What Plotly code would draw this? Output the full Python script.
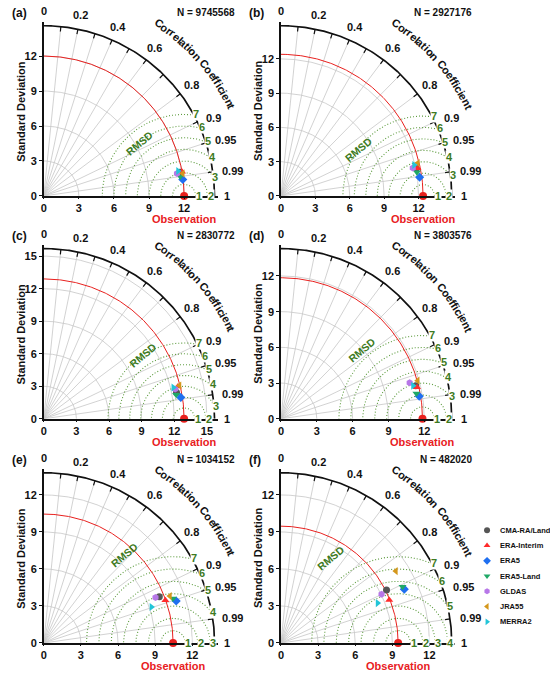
import numpy as np
import plotly.graph_objects as go

# ---------------- data ----------------
panels = ["(a)", "(b)", "(c)", "(d)", "(e)", "(f)"]
sample_sizes = [9745568, 2927176, 2830772, 3803576, 1034152, 482020]
obs_std = [12.0, 12.4, 12.9, 11.85, 10.45, 9.47]
max_std = [14.6, 14.9, 15.7, 14.3, 13.8, 13.8]

models = ["CMA-RA/Land", "ERA-Interim", "ERA5", "ERA5-Land", "GLDAS", "JRA55", "MERRA2"]

std_a = [11.82, 12.00, 11.97, 11.79, 11.55, 12.04, 11.68]
corr_a = [0.985, 0.985, 0.993, 0.990, 0.986, 0.987, 0.983]
std_b = [12.04, 12.16, 12.21, 12.05, 11.76, 12.29, 11.93]
corr_b = [0.980, 0.980, 0.991, 0.985, 0.978, 0.972, 0.974]
std_c = [12.44, 12.69, 12.75, 12.37, 12.39, 12.85, 12.25]
corr_c = [0.981, 0.972, 0.988, 0.984, 0.975, 0.971, 0.972]
std_d = [11.62, 11.70, 11.73, 11.54, 11.19, 11.89, 11.40]
corr_d = [0.971, 0.974, 0.987, 0.983, 0.963, 0.963, 0.970]
std_e = [10.06, 10.42, 11.23, 11.04, 9.75, 10.88, 9.18]
corr_e = [0.928, 0.943, 0.953, 0.945, 0.926, 0.937, 0.948]
std_f = [9.55, 9.42, 10.88, 10.83, 9.04, 10.96, 8.45]
corr_f = [0.893, 0.929, 0.916, 0.907, 0.899, 0.847, 0.924]

std_values = [std_a, std_b, std_c, std_d, std_e, std_f]
corr_values = [corr_a, corr_b, corr_c, corr_d, corr_e, corr_f]

corr_grid = [0.1, 0.2, 0.3, 0.4, 0.5, 0.6, 0.7, 0.8, 0.9, 0.95, 0.99]
corr_tick_labels = ["0", "0.2", "0.4", "0.6", "0.8", "0.9", "0.95", "0.99", "1"]
rmsd_levels = [1, 2, 3, 4, 5, 6, 7]
std_step = 3

# ---------------- style ----------------
FONT = "Liberation Sans, Arial, sans-serif"
model_colors = ["#555555", "#ff2b2b", "#1f6ff0", "#1fa866", "#b777e8", "#d4971c", "#22c5d8"]
model_symbols = ["circle", "triangle-up", "diamond", "triangle-down", "hexagon",
                 "triangle-left", "triangle-right"]
GREEN_LINE = "#5b9a3c"
GREEN_TEXT = "#3d7a22"
RED = "#e8201e"
GRAY = "#c6c6c6"

W, H = 550, 678
RP = 171.7              # pixel radius of each diagram
PAD = 3.5
col_x = [41, 279.5]
row_y = [197.7, 422.5, 648.7]
rmsd_label_pos = [(6.6, 6.0), (6.8, 5.6), (7.4, 5.9), (6.75, 5.8), (5.0, 5.7), (4.0, 5.5)]

char_w = {'C': 722, 'o': 611, 'r': 389, 'e': 556, 'l': 278, 'a': 556, 't': 333,
          'i': 278, 'n': 611, ' ': 278, 'f': 333, 'c': 556}


def bfont(size, color="#111"):
    return dict(family=FONT, size=size, color=color, weight="bold")


fig = go.Figure()
annotations = []
layout_axes = {}

th = np.linspace(0, np.pi / 2, 181)

for i in range(6):
    n = i + 1
    xa = "x" if n == 1 else f"x{n}"
    ya = "y" if n == 1 else f"y{n}"
    R = max_std[i]
    obs = obs_std[i]
    s = RP / R
    ox = col_x[i % 2]
    oy = row_y[i // 2]
    rng = R * (RP + PAD) / RP
    ticks = list(range(0, int(np.floor(R)) + 1, std_step))

    def to_paper(x, y, ox=ox, oy=oy, s=s):
        return (ox + x * s) / W, 1 - (oy - y * s) / H

    layout_axes["xaxis" if n == 1 else f"xaxis{n}"] = dict(
        domain=[ox / W, (ox + RP + PAD) / W], range=[0, rng], anchor=ya,
        showgrid=False, zeroline=False, showline=True, linecolor="#111", linewidth=1.5,
        ticks="outside", ticklen=1, tickcolor="#111", tickvals=ticks,
        tickfont=bfont(11), fixedrange=True)
    layout_axes["yaxis" if n == 1 else f"yaxis{n}"] = dict(
        domain=[1 - oy / H, 1 - (oy - RP - PAD) / H], range=[0, rng], anchor=xa,
        showgrid=False, zeroline=False, showline=True, linecolor="#111", linewidth=1.5,
        ticks="outside", ticklen=3, tickcolor="#111", tickvals=ticks,
        tickfont=bfont(11), fixedrange=True)

    # gray std arcs
    gx, gy = [], []
    for t in ticks[1:]:
        if t < R:
            gx += list(t * np.cos(th)) + [None]
            gy += list(t * np.sin(th)) + [None]
    # gray radial lines
    for c in corr_grid:
        a = np.arccos(c)
        gx += [0, R * np.cos(a), None]
        gy += [0, R * np.sin(a), None]
    fig.add_trace(go.Scatter(x=gx, y=gy, mode="lines", line=dict(color=GRAY, width=0.8),
                             hoverinfo="skip", showlegend=False, xaxis=xa, yaxis=ya))

    # RMSD arcs
    rx, ry = [], []
    for k in rmsd_levels:
        if obs + k <= R:
            p0 = 0.0
        else:
            xi = (R ** 2 + obs ** 2 - k ** 2) / (2 * obs)
            yi = np.sqrt(max(R ** 2 - xi ** 2, 0))
            p0 = np.arctan2(yi, xi - obs)
        ph = np.linspace(p0, np.pi, 200)
        rx += list(obs + k * np.cos(ph)) + [None]
        ry += list(k * np.sin(ph)) + [None]
    fig.add_trace(go.Scatter(x=rx, y=ry, mode="lines",
                             line=dict(color=GREEN_LINE, width=1.1, dash="1px,2px"),
                             hoverinfo="skip", showlegend=False, xaxis=xa, yaxis=ya))

    # observation arc
    fig.add_trace(go.Scatter(x=obs * np.cos(th), y=obs * np.sin(th), mode="lines",
                             line=dict(color=RED, width=1), hoverinfo="skip",
                             showlegend=False, xaxis=xa, yaxis=ya))

    # outer arc and ticks
    fig.add_trace(go.Scatter(x=R * np.cos(th), y=R * np.sin(th), mode="lines",
                             line=dict(color="#111", width=1.7), hoverinfo="skip",
                             showlegend=False, xaxis=xa, yaxis=ya))
    tx, ty = [], []
    for c in corr_grid:
        a = np.arccos(c)
        r0 = R - 5 / s
        tx += [r0 * np.cos(a), R * np.cos(a), None]
        ty += [r0 * np.sin(a), R * np.sin(a), None]
    fig.add_trace(go.Scatter(x=tx, y=ty, mode="lines", line=dict(color="#111", width=1.2),
                             hoverinfo="skip", showlegend=False, xaxis=xa, yaxis=ya))

    # model markers
    for m in range(len(models)):
        sd = std_values[i][m]
        cc = corr_values[i][m]
        fig.add_trace(go.Scatter(
            x=[sd * cc], y=[sd * np.sqrt(1 - cc ** 2)], mode="markers", name=models[m],
            marker=dict(symbol=model_symbols[m], color=model_colors[m], size=7,
                        line=dict(width=0)),
            showlegend=False, xaxis=xa, yaxis=ya, cliponaxis=False))
    # observation point
    fig.add_trace(go.Scatter(x=[obs], y=[0], mode="markers", name="Observation",
                             marker=dict(color=RED, size=8), showlegend=False,
                             xaxis=xa, yaxis=ya, cliponaxis=False))

    # correlation labels
    for lab in corr_tick_labels:
        c = float(lab)
        a = np.arccos(c)
        if c < 0.85:
            px, py = to_paper(1.085 * R * np.cos(a), 1.085 * R * np.sin(a))
            annotations.append(dict(x=px, y=py, xref="paper", yref="paper", text=lab,
                                    showarrow=False, xanchor="center", yanchor="middle",
                                    font=bfont(11)))
        else:
            px, py = to_paper(1.045 * R * np.cos(a), 1.045 * R * np.sin(a))
            annotations.append(dict(x=px, y=py, xref="paper", yref="paper", text=lab,
                                    showarrow=False, xanchor="left", yanchor="middle",
                                    font=bfont(11)))

    # "Correlation Coefficient" along the arc
    title = "Correlation Coefficient"
    fs = 11
    ws = [char_w[ch] * fs / 1000 for ch in title]
    total = sum(ws)
    r_px = 209.0
    cum = 0.0
    for ch, w in zip(title, ws):
        mid = cum + w / 2 - total / 2
        cum += w
        if ch == " ":
            continue
        ang = np.radians(41.2) - mid / r_px
        rd = r_px / s
        px, py = to_paper(rd * np.cos(ang), rd * np.sin(ang))
        annotations.append(dict(x=px, y=py, xref="paper", yref="paper",
                                text=ch, showarrow=False, xanchor="center", yanchor="middle",
                                textangle=90 - np.degrees(ang), font=bfont(fs)))

    # RMSD level labels
    for k in rmsd_levels:
        if obs + k <= R:
            px, py = to_paper(obs + k + 3 / s, 0)
        else:
            xi = (R ** 2 + obs ** 2 - k ** 2) / (2 * obs)
            yi = np.sqrt(max(R ** 2 - xi ** 2, 0))
            a = np.arctan2(yi, xi)
            px, py = to_paper(1.012 * R * np.cos(a), 1.012 * R * np.sin(a))
        annotations.append(dict(x=px, y=py, xref="paper", yref="paper", text=str(k),
                                showarrow=False, bgcolor="white", borderpad=0,
                                xanchor="center", yanchor="middle",
                                font=bfont(11, GREEN_TEXT)))
    lx, ly = rmsd_label_pos[i]
    px, py = to_paper(lx, ly)
    annotations.append(dict(x=px, y=py, xref="paper", yref="paper", text="RMSD",
                            showarrow=False, textangle=-40, font=bfont(10.5, GREEN_TEXT)))

    # panel texts
    annotations.append(dict(x=(ox - 34) / W, y=1 - (oy - 184.4) / H, xref="paper", yref="paper",
                            text=panels[i], showarrow=False, xanchor="left", yanchor="middle",
                            font=bfont(12)))
    annotations.append(dict(x=(ox + 194) / W, y=1 - (oy - 185) / H, xref="paper", yref="paper",
                            text=f"N = {sample_sizes[i]}", showarrow=False, xanchor="right",
                            yanchor="middle", font=bfont(10)))
    annotations.append(dict(x=(ox - 23) / W, y=1 - (oy - RP / 2) / H, xref="paper", yref="paper",
                            text="Standard Deviation", showarrow=False, textangle=-90,
                            xanchor="center", yanchor="middle", font=bfont(11)))
    px, py = to_paper(obs, 0)
    annotations.append(dict(x=px, y=py, xref="paper", yref="paper", yshift=-23,
                            text="Observation", showarrow=False, xanchor="center",
                            yanchor="middle", font=bfont(11, RED)))

# ---------------- legend (own small axis) ----------------
leg_top, leg_bot = 522, 640
row_gap = 15.4
first_row = 535
layout_axes["xaxis7"] = dict(domain=[480 / W, 1.0], range=[0, 70], anchor="y7", visible=False,
                             fixedrange=True)
layout_axes["yaxis7"] = dict(domain=[1 - leg_bot / H, 1 - leg_top / H],
                             range=[(leg_bot - first_row) / row_gap, (leg_top - first_row) / row_gap],
                             anchor="x7", visible=False, fixedrange=True)
for m in range(len(models)):
    fig.add_trace(go.Scatter(x=[6.7], y=[m], mode="markers", name=models[m],
                             marker=dict(symbol=model_symbols[m], color=model_colors[m], size=6),
                             showlegend=False, xaxis="x7", yaxis="y7", cliponaxis=False))
    annotations.append(dict(x=17.7, y=m, xref="x7", yref="y7", text=models[m], showarrow=False,
                            xanchor="left", yanchor="middle", font=bfont(7.5)))

fig.update_layout(width=W, height=H, margin=dict(l=0, r=0, t=0, b=0),
                  paper_bgcolor="white", plot_bgcolor="white", showlegend=False,
                  annotations=annotations, **layout_axes)

fig.write_html("out.html", config={"displayModeBar": False},
               post_script="document.body.style.margin='0';")
